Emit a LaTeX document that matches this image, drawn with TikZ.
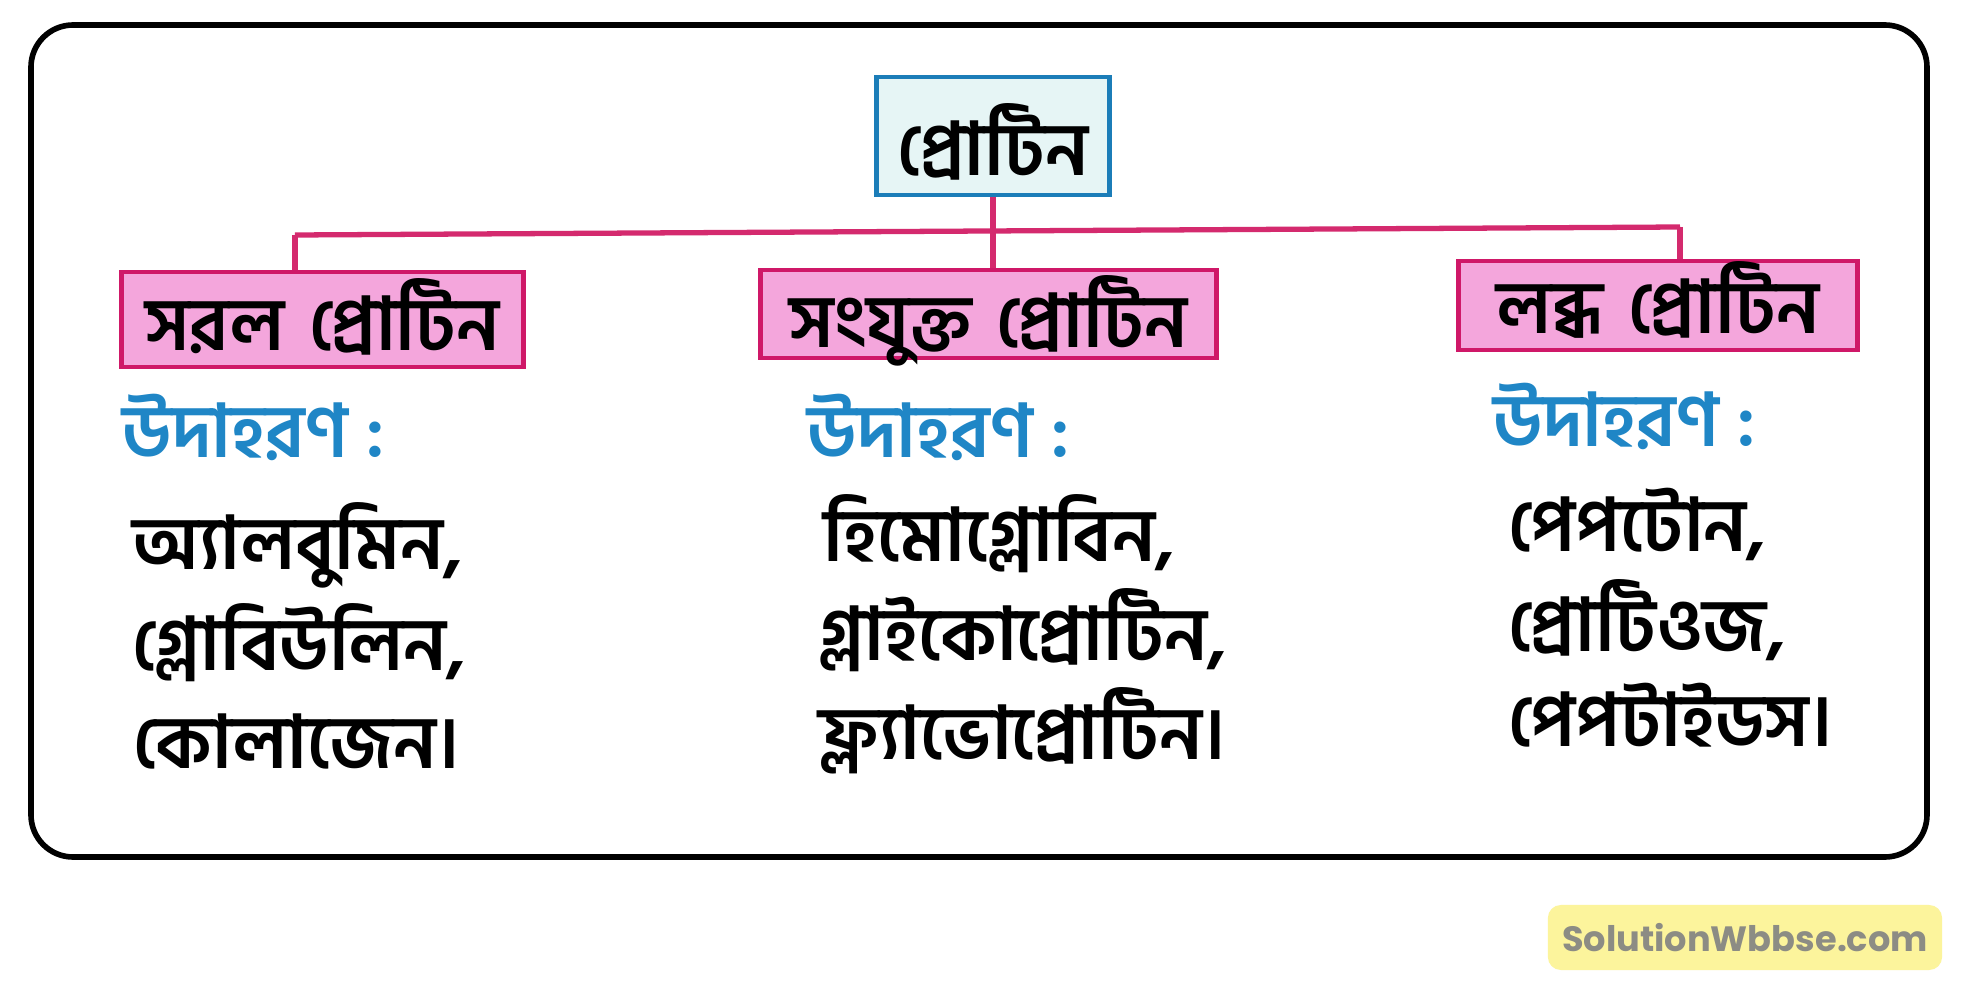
\documentclass[tikz,border=0pt]{standalone}
\usepackage{fontspec}
\newfontfamily\bn[Script=Bengali]{Hind Siliguri}
\newfontfamily\wmfont{Poppins}
\definecolor{pinkfill}{HTML}{F4A6DC}
\definecolor{pinkedge}{HTML}{CF1868}
\definecolor{linkcol}{HTML}{D42A6E}
\definecolor{bluetxt}{HTML}{1F86C6}
\definecolor{topedge}{HTML}{1B7DB8}
\definecolor{topfill}{HTML}{E6F5F5}
\definecolor{wmfill}{HTML}{FCF49C}
\definecolor{wmtxt}{HTML}{8C8C84}
\tikzset{
  headbox/.style={draw=pinkedge, fill=pinkfill, line width=1.4pt, inner sep=0pt,
    font=\bn\bfseries\fontsize{21}{24}\selectfont, text=black},
  topbox/.style={draw=topedge, fill=topfill, line width=1.4pt, inner sep=0pt,
    font=\bn\bfseries\fontsize{21}{24}\selectfont, text=black},
  exlabel/.style={anchor=base west, inner sep=0pt, text=bluetxt,
    font=\bn\bfseries\fontsize{21}{24}\selectfont},
  extext/.style={anchor=base west, inner sep=0pt, text=black,
    font=\bn\bfseries\fontsize{21}{24}\selectfont},
  link/.style={draw=linkcol, line width=1.5pt},
}
\begin{document}
\begin{tikzpicture}[x=0.01cm, y=-0.01cm]
\useasboundingbox (0,0) rectangle (1965,988);
\fill[white] (0,0) rectangle (1965,988);
% outer frame
\draw[black, line width=1.6pt, rounded corners=0.42cm] (31,25) rectangle (1927,857);

% top box
\node[topbox, text height=0.98cm, text depth=0.20cm, text width=2.32cm, align=center]
  (top) at (993,136) {প্রোটিন};

% category boxes
\node[headbox, text height=0.78cm, text depth=0.17cm, text width=4.01cm, align=center]
  (simple) at (322.5,319.5) {সরল প্রোটিন};
\node[headbox, text height=0.77cm, text depth=0.11cm, text width=4.55cm, align=center]
  (conj) at (988.5,314) {সংযুক্ত প্রোটিন};
\node[headbox, text height=0.72cm, text depth=0.17cm, text width=3.98cm, align=center]
  (deriv) at (1658,305.5) {লব্ধ প্রোটিন};

% connectors
\coordinate (jL) at (295,235);
\coordinate (jR) at (1680,227);
\draw[link] (jL) -- (jR);
\draw[link] (jL) -- (jL |- simple.north);
\draw[link] (jR) -- (jR |- deriv.north);
\draw[link] (top.south) -- (top.south |- conj.north);

% examples labels
\node[exlabel] (exA) at (122,458) {উদাহরণ :};
\node[exlabel] (exB) at (807,458) {উদাহরণ :};
\node[exlabel] (exC) at (1493,447) {উদাহরণ :};

% left column
\node[extext] (a1) at (132,570) {অ্যালবুমিন,};
\node[extext] (a2) at (132,670) {গ্লোবিউলিন,};
\node[extext] (a3) at (133,768) {কোলাজেন।};
% middle column
\node[extext] (b1) at (823,562) {হিমোগ্লোবিন,};
\node[extext] (b2) at (818,660) {গ্লাইকোপ্রোটিন,};
\node[extext] (b3) at (818,760) {ফ্ল্যাভোপ্রোটিন।};
% right column
\node[extext] (c1) at (1508,552) {পেপটোন,};
\node[extext] (c2) at (1508,652) {প্রোটিওজ,};
\node[extext] (c3) at (1508,747) {পেপটাইডস।};

% watermark
\node[fill=wmfill, rounded corners=0.13cm, minimum width=3.94cm, minimum height=0.65cm, inner sep=0pt,
  text=wmtxt, font=\wmfont\bfseries\fontsize{10}{12}\selectfont] (wm) at (1745,937.5) {SolutionWbbse.com};
\end{tikzpicture}
\end{document}
